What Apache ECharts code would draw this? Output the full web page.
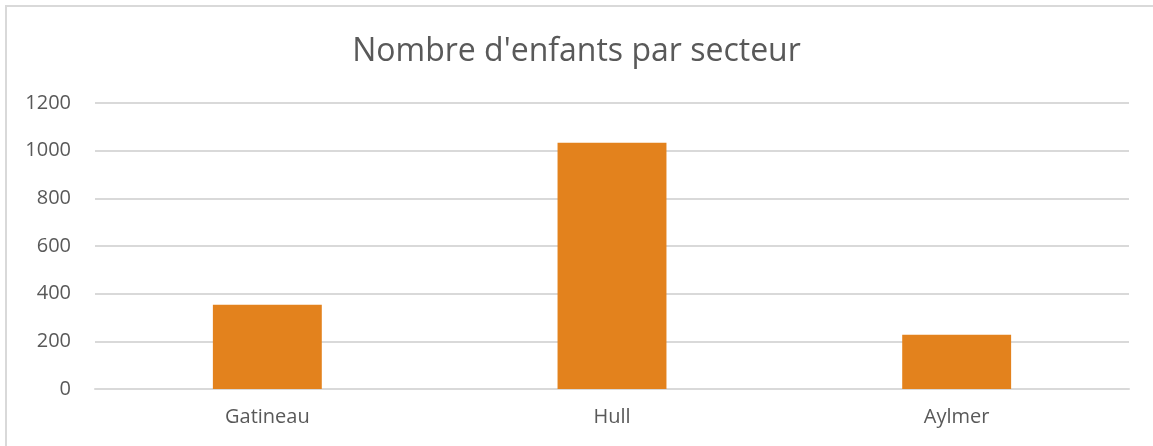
<!DOCTYPE html>
<html>
<head>
<meta charset="utf-8">
<script src="https://cdn.jsdelivr.net/npm/echarts@6/dist/echarts.min.js"></script>
<style>
  html, body { margin: 0; padding: 0; background: #fff; }
  #bar_chart { width: 1153px; height: 446px; }
</style>
</head>
<body>
<div id="bar_chart"></div>
<script>
// initialize the echarts instance
var myChart = echarts.init(document.getElementById("bar_chart"));
var option;

// data
const secteurs = ["Gatineau", "Hull", "Aylmer"];
const enfants = [354, 1033, 228];
const yTicks = { min: 0, max: 1200, interval: 200 };

const textColor = "#595959";
const fontFamily = "Open Sans, sans-serif";

option = {
    animation: false,
    textStyle: { fontFamily: fontFamily, color: textColor },
    title: {
        text: "Nombre d'enfants par secteur",
        left: "center",
        top: 31,
        textStyle: {
            fontFamily: fontFamily,
            fontSize: 32,
            fontWeight: "normal",
            color: textColor,
        },
    },
    graphic: [
        {
            type: "rect",
            shape: { x: 6, y: 6, width: 1170, height: 470 },
            style: { fill: "none", stroke: "#d9d9d9", lineWidth: 2 },
            silent: true,
        },
    ],
    grid: { left: 95, right: 24, top: 103, bottom: 57 },
    xAxis: {
        type: "category",
        data: secteurs,
        axisLine: { lineStyle: { color: "#d9d9d9", width: 2 } },
        axisTick: { show: false },
        axisLabel: { color: textColor, fontSize: 20, margin: 18, fontFamily: fontFamily },
    },
    yAxis: {
        type: "value",
        min: yTicks.min,
        max: yTicks.max,
        interval: yTicks.interval,
        axisLine: { show: false },
        axisTick: { show: false },
        axisLabel: {
            color: textColor,
            fontSize: 20,
            margin: 24,
            fontFamily: fontFamily,
            formatter: function (v) { return String(v); },
        },
        splitLine: { lineStyle: { color: "#d9d9d9", width: 2 } },
    },
    series: [
        {
            type: "bar",
            data: enfants,
            barWidth: "31.6%",
            itemStyle: { color: "#E3821D" },
        },
    ],
};

option && myChart.setOption(option);
</script>
</body>
</html>
